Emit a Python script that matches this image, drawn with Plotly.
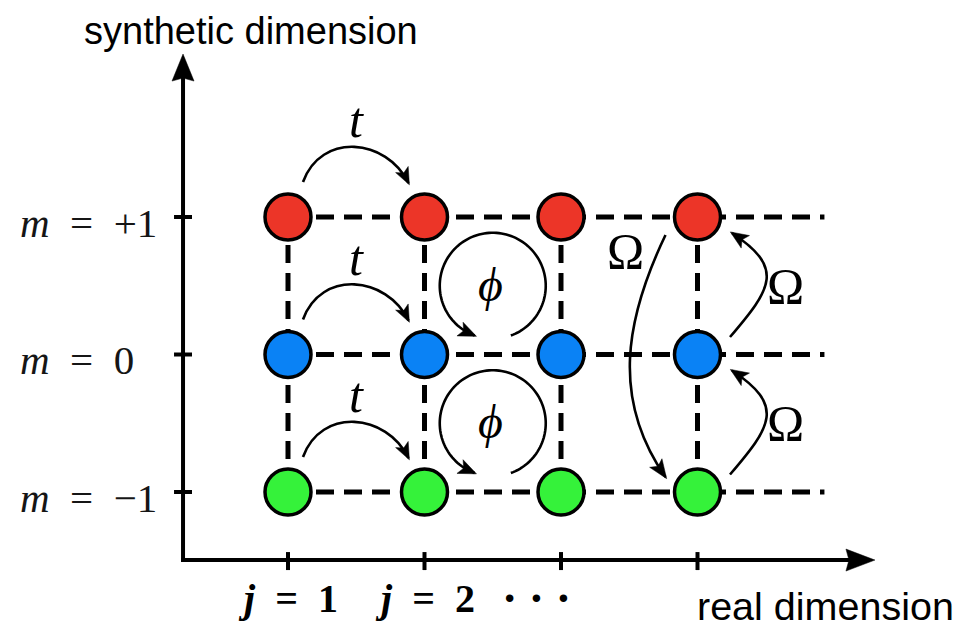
import numpy as np
import plotly.graph_objects as go

# ---------------- data ----------------
columns = [1, 2, 3, 4]                      # real-dimension sites j
rows = [1, 0, -1]                           # synthetic-dimension sites m
row_colors = ["#ec3528", "#0a82f5", "#35f23a"]
row_labels = ["<i>m</i>\u2002=\u2002+1", "<i>m</i>\u2002=\u20020", "<i>m</i>\u2002=\u2002\u22121"]
col_labels = ["<b><i>j</i>\u2002=\u20021</b>", "<b><i>j</i>\u2002=\u20022</b>", "<b>\u00b7 \u00b7 \u00b7</b>"]
hop_label = "<i>t</i>"
phase_label = "<i>\u03d5</i>"
coupling_label = "\u03a9"
plaquette_centers = [(2.5, 0.5), (2.5, -0.5)]
x_title = "real dimension"
y_title = "synthetic dimension"

# ---------------- geometry / scales ----------------
# page has an 8px body margin, so the figure is sized to fill the rest of the window
W, H = 967, 623
X0, X1 = -1.05128, 6.03297
Y0, Y1 = -2.01091, 2.52000
SX = W / (X1 - X0)
SY = H / (Y1 - Y0)
origin = (0.231, -1.495)
x_tip = 5.30
y_tip = 2.185
dash_end = 4.93

def off(j, m, dx, dy):
    """point at data (j, m) shifted by dx, dy screen pixels (dy downward)."""
    return (j + dx / SX, m - dy / SY)

def shift(p, dx, dy):
    return off(p[0], p[1], dx, dy)

def fmt(p):
    return f"{p[0]:.5f},{p[1]:.5f}"

def cubic(p0, c1, c2, p3):
    return f"M{fmt(p0)} C{fmt(c1)} {fmt(c2)} {fmt(p3)}"

def head(prev, tip, L=17, hw=7, notch=4, extra=2):
    d = np.array([(tip[0] - prev[0]) * SX, -(tip[1] - prev[1]) * SY])
    u = d / np.linalg.norm(d)
    v = np.array([-u[1], u[0]])
    t = np.array([0.0, 0.0]) + u * extra
    pts = [t, t - L * u + hw * v, t - (L - notch) * u, t - L * u - hw * v]
    ps = [shift(tip, p[0], p[1]) for p in pts]
    return "M" + " L".join(fmt(p) for p in ps) + " Z"

shapes = []
LINE = dict(color="black", width=2.6)

def add_curve(path):
    shapes.append(dict(type="path", path=path, xref="x", yref="y", line=LINE))

def add_head(prev, tip, **kw):
    shapes.append(dict(type="path", path=head(prev, tip, **kw), xref="x", yref="y",
                       fillcolor="black", line=dict(color="black", width=0.5)))

fig = go.Figure()

# dashed lattice bonds
for m in rows:
    fig.add_trace(go.Scatter(x=[columns[0], dash_end], y=[m, m], mode="lines",
                             line=dict(color="black", width=5, dash="18px,10px"),
                             hoverinfo="skip", showlegend=False))
for j in columns:
    fig.add_trace(go.Scatter(x=[j, j], y=[rows[0], rows[-1]], mode="lines",
                             line=dict(color="black", width=5, dash="18px,10px"),
                             hoverinfo="skip", showlegend=False))

# sites
for m, c in zip(rows, row_colors):
    fig.add_trace(go.Scatter(x=columns, y=[m] * len(columns), mode="markers",
                             marker=dict(size=46, color=c, line=dict(color="black", width=3.5)),
                             hoverinfo="skip", showlegend=False))

# axes with arrows
ox, oy = origin
shapes.append(dict(type="line", x0=ox, y0=shift((ox, oy), 0, 2)[1], x1=ox, y1=shift((ox, y_tip), 0, 20)[1],
                   xref="x", yref="y", line=dict(color="black", width=4)))
shapes.append(dict(type="line", x0=shift((ox, oy), -2, 0)[0], y0=oy, x1=shift((x_tip, oy), -20, 0)[0], y1=oy,
                   xref="x", yref="y", line=dict(color="black", width=4)))
add_head((ox, oy), (ox, y_tip), L=27, hw=11, notch=3, extra=0)
add_head((ox, oy), (x_tip, oy), L=29, hw=11, notch=3, extra=0)
for m in rows:
    shapes.append(dict(type="line", x0=shift((ox, m), -9, 0)[0], x1=shift((ox, m), 9, 0)[0], y0=m, y1=m,
                       xref="x", yref="y", line=dict(color="black", width=4)))
for j in columns:
    shapes.append(dict(type="line", x0=j, x1=j, y0=shift((j, oy), 0, -8)[1], y1=shift((j, oy), 0, 10)[1],
                       xref="x", yref="y", line=dict(color="black", width=4)))

annotations = []

# hopping arrows t between j=1 and j=2
j1, j2 = columns[0], columns[1]
for m in rows:
    p0 = off(j1, m, 15, -35)
    p3 = off(j2, m, -16, -34)
    c1 = shift(p0, 18, -50)
    c2 = shift(p3, -22, -45)
    add_curve(cubic(p0, c1, c2, p3))
    add_head(c2, p3)
    annotations.append(dict(x=(j1 + j2) / 2 + 0.005, y=m + 0.705, text=hop_label, showarrow=False,
                            font=dict(family="Liberation Serif", size=50, color="black")))

# plaquette phase loops
R = 53
for (cj, cm) in plaquette_centers:
    th = np.radians(np.linspace(-70, 250, 120))
    pts = [(cj + R * np.cos(a) / SX, cm + R * np.sin(a) / SY) for a in th]
    add_curve("M" + " L".join(fmt(p) for p in pts))
    add_head(pts[-4], pts[-1], L=18, hw=7.5)
    annotations.append(dict(x=cj - 0.02, y=cm + 0.01, text=phase_label, showarrow=False,
                            font=dict(family="Liberation Serif", size=48, color="black")))

# long coupling arc Omega from m=+1 to m=-1 at last column
jl = columns[-1]
p0 = off(jl, rows[0], -32, 18)
p3 = off(jl, rows[-1], -32, -15)
a = 94.7
c1 = shift(p0, -0.43 * a, 0.9 * a)
c2 = shift(p3, -0.57 * a, -0.82 * a)
add_curve(cubic(p0, c1, c2, p3))
add_head(c2, p3, L=19, hw=7.5)
bx, by = off(jl, rows[0], -72.5, 33.5)
annotations.append(dict(x=bx, y=by, text=coupling_label, showarrow=False,
                        font=dict(family="Liberation Serif", size=50, color="black")))

# nearest-neighbour coupling arcs Omega on the right
for m_lo, m_hi in [(rows[1], rows[0]), (rows[2], rows[1])]:
    p0 = off(jl, m_lo, 32.5, -17.5)
    p3 = off(jl, m_hi, 34.5, 16)
    b = 64
    c1 = shift(p0, 0.65 * b, -0.76 * b)
    c2 = shift(p3, 0.83 * b, 0.55 * b)
    add_curve(cubic(p0, c1, c2, p3))
    add_head(c2, p3, L=18, hw=7.5)
    lx, ly = off(jl, (m_lo + m_hi) / 2, 87.5, 0)
    annotations.append(dict(x=lx, y=ly, text=coupling_label, showarrow=False,
                            font=dict(family="Liberation Serif", size=50, color="black")))

# tick labels
for m, lab in zip(rows, row_labels):
    annotations.append(dict(x=-0.978, y=m - 0.04, text=lab, showarrow=False, xanchor="left",
                            font=dict(family="Liberation Serif", size=41, color="#151515")))
label_x = [columns[0], columns[1], columns[2] - 0.18]
label_size = [40, 40, 46]
for j, lab, s in zip(label_x, col_labels, label_size):
    annotations.append(dict(x=j, y=-1.771, text=lab, showarrow=False,
                            font=dict(family="Liberation Serif", size=s, color="black")))

# axis titles
annotations.append(dict(x=0.729, y=2.353, text=y_title, showarrow=False,
                        font=dict(family="Liberation Sans", size=38, color="black")))
annotations.append(dict(x=4.94, y=-1.829, text=x_title, showarrow=False,
                        font=dict(family="Liberation Sans", size=39.5, color="black")))

fig.update_layout(
    width=W, height=H, margin=dict(l=0, r=0, t=0, b=0),
    paper_bgcolor="white", plot_bgcolor="white",
    xaxis=dict(range=[X0, X1], visible=False, fixedrange=True),
    yaxis=dict(range=[Y0, Y1], visible=False, fixedrange=True),
    shapes=shapes, annotations=annotations, showlegend=False,
)
fig.write_html("out.html")
